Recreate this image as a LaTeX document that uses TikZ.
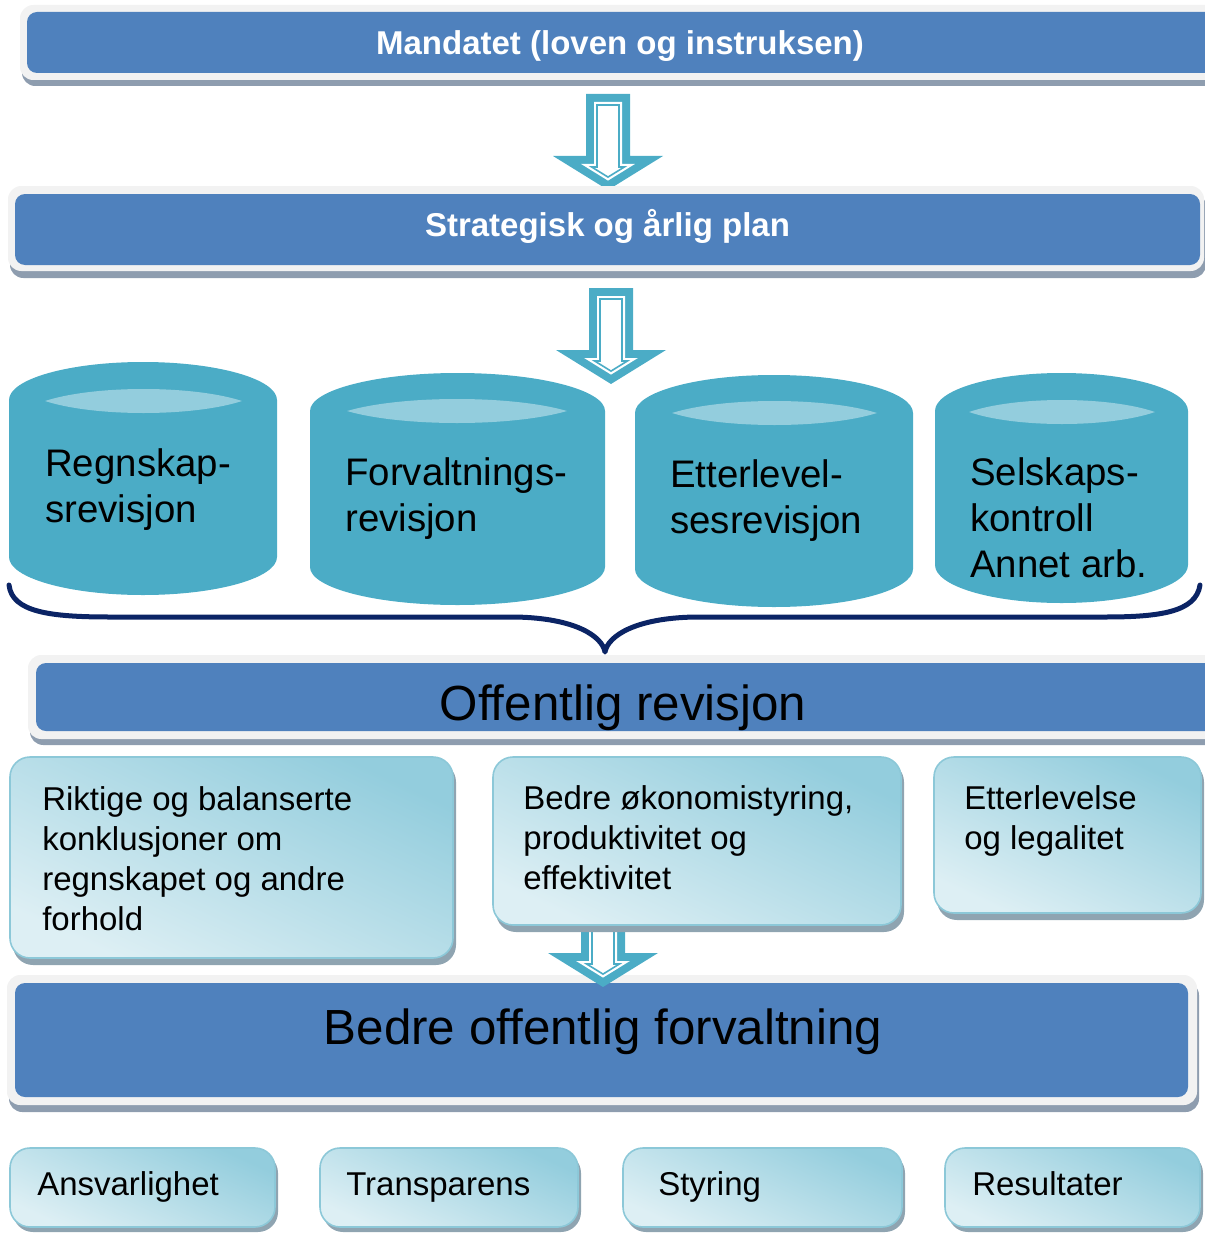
\documentclass[tikz,border=0pt]{standalone}
\usepackage{fontspec}
\setmainfont{Liberation Sans}
\usepackage{tikz}

\definecolor{barblue}{HTML}{4F81BD}
\definecolor{framegray}{HTML}{F2F2F2}
\definecolor{shadowgray}{HTML}{8E9DAF}
\definecolor{drumteal}{HTML}{4BACC6}
\definecolor{lensblue}{HTML}{93CDDD}
\definecolor{bracenavy}{HTML}{0B2465}
\definecolor{boxdark}{HTML}{93CDDD}
\definecolor{boxlight}{HTML}{DDEFF4}
\definecolor{boxedge}{HTML}{8CC8D8}
\definecolor{boxshadow}{HTML}{8FA4B1}

% hollow block arrow: centre x, top y, tip y
\newcommand{\hollowarrow}[3]{%
  \fill[drumteal] (#1-22,#2) -- (#1+22,#2) -- (#1+22,#3-34) -- (#1+55,#3-34) -- (#1,#3) -- (#1-55,#3-34) -- (#1-22,#3-34) -- cycle;
  \fill[white] (#1-14,#2+8) -- (#1+14,#2+8) -- (#1+14,#3-26) -- (#1+26.9,#3-26) -- (#1,#3-9.4) -- (#1-26.9,#3-26) -- (#1-14,#3-26) -- cycle;
  \draw[drumteal, line width=1.2pt] (#1-11,#2+11) -- (#1+11,#2+11) -- (#1+11,#3-23) -- (#1+16.3,#3-23) -- (#1,#3-12.9) -- (#1-16.3,#3-23) -- (#1-11,#3-23) -- cycle;
}
% drum: left x, right x, top y, bottom y
\newcommand{\drum}[4]{%
  \fill[drumteal] (#1,#3+38) arc[start angle=180, end angle=360, x radius={(#2-#1)/2}, y radius=38] -- (#2,#4-38) arc[start angle=0, end angle=180, x radius={(#2-#1)/2}, y radius=38] -- cycle;
}
% light lens on top of a drum: left x, right x, centre y
\newcommand{\drumlens}[3]{%
  \fill[lensblue] (#1,#3) .. controls ({#1+(#2-#1)/4},#3-16) and ({#2-(#2-#1)/4},#3-16) .. (#2,#3) .. controls ({#2-(#2-#1)/4},#3+16) and ({#1+(#2-#1)/4},#3+16) .. cycle;
}

\begin{document}
\begin{tikzpicture}[x=0.75pt,y=0.75pt,yscale=-1,xscale=1,
  barshadow/.style={fill=shadowgray, rounded corners=10pt},
  barframe/.style={fill=framegray, rounded corners=10pt},
  barfill/.style={fill=barblue, rounded corners=7.5pt},
  goalshadow/.style={fill=boxshadow, rounded corners=15pt},
  goalbox/.style={draw=boxedge, line width=1.2pt, rounded corners=15pt, top color=boxdark, bottom color=boxlight, shading angle=-25},
  brace/.style={draw=bracenavy, line width=3.75pt, line cap=round, line join=round},
  bartitle/.style={anchor=base, inner sep=0, text=white, font=\bfseries\fontsize{24.75}{29.7}\selectfont},
  bigtitle/.style={anchor=base, inner sep=0, font=\fontsize{37}{44}\selectfont},
  drumtext/.style={anchor=north west, inner sep=0, align=left, font=\fontsize{28.8}{34.5}\selectfont},
  goaltext/.style={anchor=north west, inner sep=0, align=left, font=\fontsize{24.75}{30}\selectfont},
  tagtext/.style={anchor=base west, inner sep=0, font=\fontsize{24.75}{30}\selectfont}]
\clip (0,0) rectangle (1205,1234);

%Bar: mandate
\fill[barshadow] (22,12) rectangle (1232,86);
\fill[barframe] (20,5) rectangle (1230,80);
\fill[barfill] (27,12) rectangle (1230,73);
\hollowarrow{608}{94}{190}

%Bar: plan
\fill[barshadow] (10,193) rectangle (1206,278);
\fill[barframe] (8,186) rectangle (1204,271);
\fill[barfill] (15,194) rectangle (1200,265);
\hollowarrow{611}{288}{384}

%Drums
\drum{9}{277}{362}{595}
\drumlens{45}{242}{401}
\drum{310}{605}{373}{605}
\drumlens{347}{567}{411}
\drum{635}{913}{375}{607}
\drumlens{672}{877}{413}
\drum{935}{1188}{373}{603}
\drumlens{969}{1155}{412}

%Brace
\draw[brace] (9,585) .. controls (12,612) and (50,617) .. (110,617) -- (515,617) .. controls (575,618) and (602,636) .. (605,652) .. controls (608,636) and (635,618) .. (695,617) -- (1105,617) .. controls (1160,617) and (1196,612) .. (1200,585);

%Bar: public audit
\fill[barshadow] (30,662) rectangle (1232,745);
\fill[barframe] (28,655) rectangle (1230,739);
\fill[barfill] (36,663) rectangle (1230,731);

%Bar: better administration
\fill[barshadow] (9,982) rectangle (1199,1112);
\fill[barframe] (7,975) rectangle (1197,1105);
\fill[barfill] (15,983) rectangle (1188,1097);
\hollowarrow{603}{920}{987}

%Goal boxes
\fill[goalshadow] (13,762) rectangle (456,965);
\shade[goalbox] (10,757) rectangle (453,958);
\fill[goalshadow] (496,762) rectangle (904,932);
\shade[goalbox] (493,757) rectangle (901,925);
\fill[goalshadow] (937,762) rectangle (1204,920);
\shade[goalbox] (934,757) rectangle (1201,913);

%Value boxes
\fill[goalshadow] (13,1153) rectangle (278,1232);
\shade[goalbox] (10,1148) rectangle (275,1227);
\fill[goalshadow] (323,1153) rectangle (581,1232);
\shade[goalbox] (320,1148) rectangle (578,1227);
\fill[goalshadow] (626,1153) rectangle (905,1232);
\shade[goalbox] (623,1148) rectangle (902,1227);
\fill[goalshadow] (948,1153) rectangle (1203,1232);
\shade[goalbox] (945,1148) rectangle (1200,1227);

% Text Node
\node[bartitle] (mandat) at (620,55) {Mandatet (loven og instruksen)};
\node[bartitle] (plan) at (607.5,236) {Strategisk og årlig plan};
\node[drumtext] (regnskap) at (45,448) {Regnskap-\\srevisjon};
\node[drumtext] (forvaltning) at (345,457.5) {Forvaltnings-\\revisjon};
\node[drumtext] (etterlevelrev) at (670,459.5) {Etterlevel-\\sesrevisjon};
\node[drumtext] (selskap) at (970,457) {Selskaps-\\kontroll\\Annet arb.};
\node[bigtitle] (offrev) at (623,720) {Offentlig revisjon};
\node[goaltext] (riktige) at (42,786) {Riktige og balanserte\\konklusjoner om\\regnskapet og andre\\forhold};
\node[goaltext] (okonomi) at (523,785) {Bedre økonomistyring,\\produktivitet og\\effektivitet};
\node[goaltext] (legalitet) at (964,785) {Etterlevelse\\og legalitet};
\node[bigtitle] (bedre) at (603,1044) {Bedre offentlig forvaltning};
\node[tagtext] (ansvar) at (37,1195) {Ansvarlighet};
\node[tagtext] (transp) at (346,1195) {Transparens};
\node[tagtext] (styring) at (658,1195) {Styring};
\node[tagtext] (result) at (972,1195) {Resultater};

\end{tikzpicture}
\end{document}
